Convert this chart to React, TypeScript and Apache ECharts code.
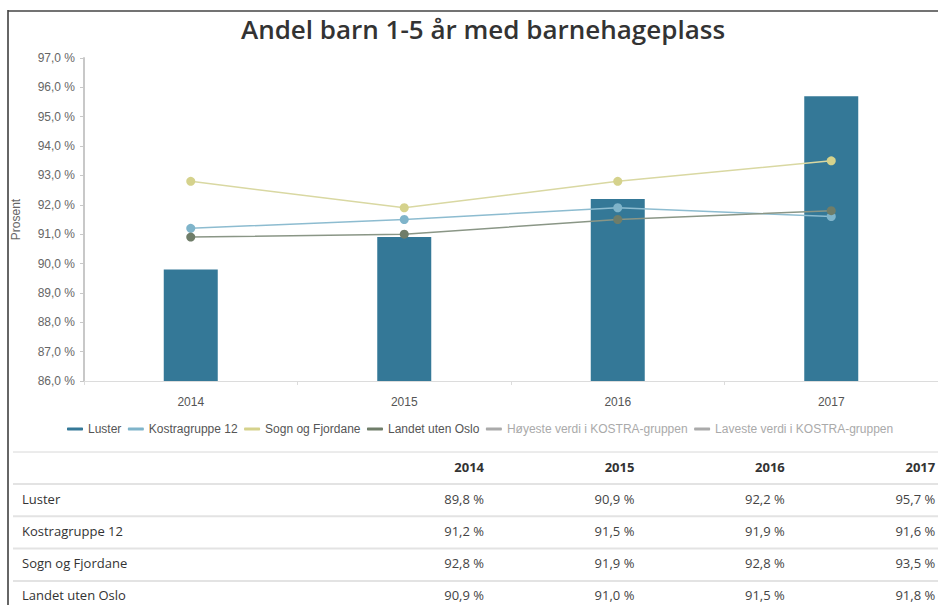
import React, { useEffect, useRef } from "react";
import * as echarts from "echarts";

const years = ["2014", "2015", "2016", "2017"];
const luster = [89.8, 90.9, 92.2, 95.7];
const kostra12 = [91.2, 91.5, 91.9, 91.6];
const sognFjordane = [92.8, 91.9, 92.8, 93.5];
const landetUtenOslo = [90.9, 91.0, 91.5, 91.8];
const hoyeste: number[] = [];
const laveste: number[] = [];

const tableRows = [
  { name: "Luster", values: luster },
  { name: "Kostragruppe 12", values: kostra12 },
  { name: "Sogn og Fjordane", values: sognFjordane },
  { name: "Landet uten Oslo", values: landetUtenOslo },
];

const fmt = (v: number) => v.toFixed(1).replace(".", ",") + " %";

export default function App() {
  const ref = useRef<HTMLDivElement>(null);
  useEffect(() => {
    if (!ref.current) return;
    const chart = echarts.init(ref.current, undefined, { renderer: "svg" });
    const font = "'Open Sans', sans-serif";
    const axisFont = "'Liberation Sans', Arial, sans-serif";

    const graphic: any[] = [
      { type: "line", shape: { x1: 8, y1: 10, x2: 8, y2: 605 }, style: { stroke: "#333", lineWidth: 1.5 } },
      { type: "line", shape: { x1: 8, y1: 11, x2: 938, y2: 11 }, style: { stroke: "#444", lineWidth: 1.5 } },
      { type: "line", shape: { x1: 13, y1: 452, x2: 938, y2: 452 }, style: { stroke: "#d8d8d8", lineWidth: 1 } },
    ];
    const colRight = (i: number) => 484 + i * 150.4;
    years.forEach((y, i) => {
      graphic.push({
        type: "text",
        x: colRight(i),
        y: 467,
        style: { text: y, fill: "#333", font: `bold 13px ${font}`, lineHeight: 13, textAlign: "right", textVerticalAlign: "middle" },
      });
    });
    tableRows.forEach((row, r) => {
      const lineY = 484 + r * 32.3;
      const textY = lineY + 14.5;
      graphic.push({ type: "line", shape: { x1: 13, y1: lineY, x2: 938, y2: lineY }, style: { stroke: "#e3e3e3", lineWidth: 2 } });
      graphic.push({
        type: "text",
        x: 22,
        y: textY,
        style: { text: row.name, fill: "#333", font: `13px ${font}`, lineHeight: 13, textAlign: "left", textVerticalAlign: "middle" },
      });
      row.values.forEach((v, i) => {
        graphic.push({
          type: "text",
          x: colRight(i),
          y: textY,
          style: { text: fmt(v), fill: "#444", font: `13px ${font}`, lineHeight: 13, textAlign: "right", textVerticalAlign: "middle" },
        });
      });
    });

    const lineSeries = (name: string, data: number[], color: string, lineColor: string) => ({
      name,
      type: "line",
      data,
      symbol: "circle",
      symbolSize: 9,
      itemStyle: { color },
      lineStyle: { color: lineColor, width: 1.5 },
      emphasis: { disabled: true },
    });

    chart.setOption({
      animation: false,
      title: {
        text: "Andel barn 1-5 år med barnehageplass",
        left: 478,
        textAlign: "center",
        top: 11,
        textStyle: { fontFamily: font, fontSize: 26, fontWeight: 600, color: "#333" },
      },
      legend: {
        top: 418,
        left: 62,
        icon: "roundRect",
        itemWidth: 16,
        itemHeight: 3,
        itemGap: 6.5,
        textStyle: { fontFamily: axisFont, fontSize: 12, color: "#555" },
        inactiveColor: "#aaa",
        selected: {
          "Høyeste verdi i KOSTRA-gruppen": false,
          "Laveste verdi i KOSTRA-gruppen": false,
        },
        data: [
          "Luster",
          "Kostragruppe 12",
          "Sogn og Fjordane",
          "Landet uten Oslo",
          "Høyeste verdi i KOSTRA-gruppen",
          "Laveste verdi i KOSTRA-gruppen",
        ],
      },
      grid: { left: 84, right: -3, top: 58, bottom: 224, containLabel: false },
      xAxis: {
        type: "category",
        data: years,
        axisLine: { lineStyle: { color: "#dcdcdc", width: 1 } },
        axisTick: { show: true, length: 4, lineStyle: { color: "#dcdcdc" } },
        axisLabel: { color: "#555", fontFamily: axisFont, fontSize: 12, margin: 15 },
      },
      yAxis: {
        type: "value",
        min: 86,
        max: 97,
        interval: 1,
        name: "Prosent",
        nameLocation: "middle",
        nameGap: 62,
        nameTextStyle: { color: "#666", fontFamily: axisFont, fontSize: 12 },
        axisLine: { show: true, lineStyle: { color: "#c8c8c8", width: 2 } },
        axisTick: { show: true, length: 4, lineStyle: { color: "#c8c8c8" } },
        splitLine: { show: false },
        axisLabel: { color: "#666", fontFamily: axisFont, fontSize: 12, margin: 9, formatter: (v: number) => fmt(v) },
      },
      graphic,
      series: [
        {
          name: "Luster",
          type: "bar",
          data: luster,
          barWidth: 54,
          itemStyle: { color: "#347897" },
          emphasis: { disabled: true },
        },
        lineSeries("Kostragruppe 12", kostra12, "#7fb4ca", "#8dbcd0"),
        lineSeries("Sogn og Fjordane", sognFjordane, "#d5d28c", "#d9d8a2"),
        lineSeries("Landet uten Oslo", landetUtenOslo, "#6f7d69", "#8a9686"),
        lineSeries("Høyeste verdi i KOSTRA-gruppen", hoyeste, "#999", "#999"),
        lineSeries("Laveste verdi i KOSTRA-gruppen", laveste, "#888", "#888"),
      ],
    });
    return () => chart.dispose();
  }, []);
  return <div ref={ref} style={{ position: "absolute", left: 0, top: 0, width: 938, height: 605, background: "#fff" }} />;
}
